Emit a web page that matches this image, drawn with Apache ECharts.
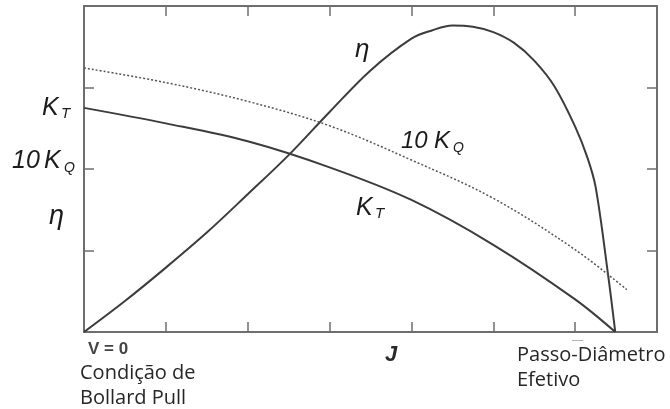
<!DOCTYPE html>
<html>
<head>
<meta charset="utf-8">
<script src="https://cdn.jsdelivr.net/npm/echarts@6/dist/echarts.min.js"></script>
<style>
  html, body { margin: 0; padding: 0; background: #fff; }
  #chart { width: 670px; height: 409px; }
</style>
</head>
<body>
<div id="chart"></div>
<script>
// Propeller open-water curves against advance ratio J (arbitrary units)
const etaCurve = [
  [0, 0], [0.5, 0.38], [1, 0.79], [1.5, 1.22], [2, 1.69], [2.5, 2.17], [3, 2.70],
  [3.5, 3.21], [4, 3.60], [4.25, 3.70], [4.5, 3.76], [4.75, 3.745], [5, 3.68],
  [5.25, 3.55], [5.5, 3.33], [5.75, 3.01], [6, 2.52], [6.15, 2.14], [6.25, 1.78],
  [6.4, 0.72], [6.49, 0]
];
const ktCurve = [
  [0, 2.75], [1, 2.56], [2, 2.34], [3, 2.02], [4, 1.62], [5, 1.07], [6, 0.40], [6.49, 0]
];
const kq10Curve = [
  [0, 3.24], [1, 3.06], [2, 2.83], [3, 2.53], [4, 2.11], [5, 1.64], [6, 1.01], [6.63, 0.52]
];
const xTicks = { min: 0, max: 7, interval: 1 };
const yTicks = { min: 0, max: 4, interval: 1 };

const axisGray = '#6e6e6e';
const curveGray = '#3c3c3c';
const labelFont = '"Liberation Sans", Arial, sans-serif';
const noteFont = '"Open Sans", "Noto Sans", sans-serif';

const PLOT = { left: 84, right: 13, top: 6, bottom: 77 };
const TICK = 10;

// Frame side axis: line always, inward ticks only where asked.
function frameAxis(pos, range, grid, withTicks) {
  return {
    type: 'value', position: pos, gridIndex: grid, min: range.min, max: range.max, interval: range.interval,
    axisLine: { show: true, onZero: false, lineStyle: { color: axisGray, width: 2 } },
    axisTick: { show: withTicks, inside: true, length: TICK, lineStyle: { color: axisGray, width: 1.5 } },
    axisLabel: { show: false },
    splitLine: { show: false }
  };
}
// Thin strip axis whose split lines act as inward ticks along the top and right sides.
function stripAxis(pos, range, grid) {
  return {
    type: 'value', position: pos, gridIndex: grid, min: range.min, max: range.max, interval: range.interval,
    axisLine: { show: false }, axisTick: { show: false }, axisLabel: { show: false },
    splitLine: { show: true, lineStyle: { color: axisGray, width: 1.5 } }
  };
}
function hiddenAxis(grid) {
  return { type: 'value', gridIndex: grid, min: 0, max: 1, show: false };
}

function txt(x, y, text, size, opts) {
  opts = opts || {};
  return {
    type: 'text', x: x, y: y, silent: true,
    style: {
      text: text,
      fontFamily: opts.family || labelFont,
      fontSize: size,
      fontStyle: opts.italic === false ? 'normal' : 'italic',
      fontWeight: opts.bold ? 'bold' : 'normal',
      fill: opts.color || '#1c1c1c',
      textAlign: 'left',
      textVerticalAlign: 'middle'
    }
  };
}

const chart = echarts.init(document.getElementById('chart'), null, { renderer: 'canvas' });
chart.setOption({
  animation: false,
  backgroundColor: '#fff',
  grid: [
    { left: PLOT.left, right: PLOT.right, top: PLOT.top, bottom: PLOT.bottom },
    { left: PLOT.left, right: PLOT.right, top: PLOT.top, height: TICK },
    { width: TICK, right: PLOT.right, top: PLOT.top, bottom: PLOT.bottom }
  ],
  xAxis: [
    frameAxis('bottom', xTicks, 0, true),
    frameAxis('top', xTicks, 0, false),
    stripAxis('bottom', xTicks, 1),
    hiddenAxis(2)
  ],
  yAxis: [
    frameAxis('left', yTicks, 0, true),
    frameAxis('right', yTicks, 0, false),
    hiddenAxis(1),
    stripAxis('right', yTicks, 2)
  ],
  series: [
    {
      name: 'eta', type: 'line', data: etaCurve, smooth: 0.35,
      showSymbol: false, lineStyle: { color: curveGray, width: 2 }
    },
    {
      name: 'KT', type: 'line', data: ktCurve, smooth: 0.35,
      showSymbol: false, lineStyle: { color: curveGray, width: 2 }
    },
    {
      name: '10KQ', type: 'line', data: kq10Curve, smooth: 0.35,
      showSymbol: false, lineStyle: { color: '#555', width: 1.5, type: [2, 2] }
    }
  ],
  graphic: [
    // left-side quantity names
    txt(42, 108.5, 'K', 25), txt(61, 114, 'T', 15),
    txt(12, 161.5, '10', 25), txt(44, 161.5, 'K', 25), txt(64, 168.5, 'Q', 14),
    txt(49, 216, 'η', 27),
    // labels on the curves
    txt(355, 50, 'η', 26),
    txt(401, 141, '10', 24), txt(434, 141, 'K', 24), txt(453, 148.5, 'Q', 14),
    txt(356, 208.5, 'K', 25), txt(375, 214, 'T', 15),
    // axis notes
    txt(88, 349, 'V = 0', 17, { italic: false, bold: true, color: '#444' }),
    txt(385, 355, 'J', 22, { bold: true, color: '#2a2a2a' }),
    txt(572, 340, '‒‒', 10, { italic: false, color: '#999' }),
    txt(80, 373, 'Condição de', 20, { family: noteFont, italic: false, color: '#262626' }),
    txt(80, 398, 'Bollard Pull', 20, { family: noteFont, italic: false, color: '#262626' }),
    txt(517, 355.5, 'Passo-Diâmetro', 20, { family: noteFont, italic: false, color: '#262626' }),
    txt(517, 380, 'Efetivo', 20, { family: noteFont, italic: false, color: '#262626' })
  ]
});
</script>
</body>
</html>
